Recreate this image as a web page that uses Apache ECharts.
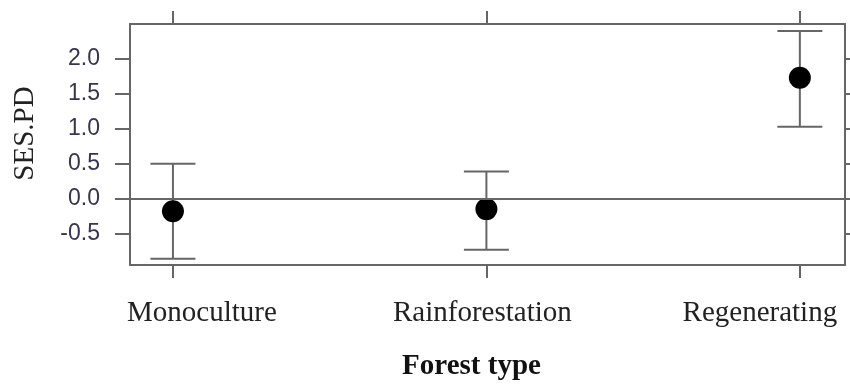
<!DOCTYPE html>
<html>
<head>
<meta charset="utf-8">
<script src="https://cdn.jsdelivr.net/npm/echarts@6/dist/echarts.min.js"></script>
<style>html,body{margin:0;padding:0;background:#fff;}#c{width:850px;height:385px;}</style>
</head>
<body>
<div id="c"></div>
<script>
const categories = ['Monoculture', 'Rainforestation', 'Regenerating'];
const positions = [1, 2, 3];
const meanValues = [-0.18, -0.15, 1.73];
const lowerValues = [-0.86, -0.73, 1.03];
const upperValues = [0.50, 0.39, 2.40];
const yTicks = [-0.5, 0.0, 0.5, 1.0, 1.5, 2.0];

const chart = echarts.init(document.getElementById('c'), null, {renderer: 'canvas'});
const axisCol = '#666';
const lineStyle = {color: axisCol, width: 2};
const serif = '"Liberation Serif", "Times New Roman", serif';
const labelStyles = ['a', 'b', 'c'];

const errData = positions.map((p, i) => [p, lowerValues[i], upperValues[i]]);
const ptData = positions.map((p, i) => [p, meanValues[i]]);

const option = {
  animation: false,
  backgroundColor: '#fff',
  grid: {left: 130, right: 5, top: 24, bottom: 120, containLabel: false, outerBoundsMode: 'none'},
  xAxis: [{
    type: 'value', min: 0.863, max: 3.144, position: 'bottom',
    splitLine: {show: false},
    axisLine: {show: true, onZero: false, lineStyle: lineStyle},
    axisTick: {show: true, inside: false, length: 13, lineStyle: lineStyle, customValues: positions},
    axisLabel: {
      show: true, margin: 34, customValues: positions,
      formatter: v => {
        const i = positions.indexOf(Math.round(v));
        return i < 0 ? '' : '{' + labelStyles[i] + '|' + categories[i] + '}';
      },
      fontFamily: serif, fontSize: 29, color: '#222',
      rich: {
        a: {fontFamily: serif, fontSize: 29, color: '#222', padding: [0, 0, 0, 58]},
        b: {fontFamily: serif, fontSize: 29, color: '#222', padding: [0, 8, 0, 0]},
        c: {fontFamily: serif, fontSize: 29, color: '#222', padding: [0, 80, 0, 0]}
      }
    },
    name: 'Forest type', nameLocation: 'middle', nameGap: 87,
    nameTextStyle: {fontFamily: serif, fontSize: 29, fontWeight: 'bold', color: '#111', padding: [0, 32, 0, 0]}
  }, {
    type: 'value', min: 0.863, max: 3.144, position: 'top',
    splitLine: {show: false},
    axisLine: {show: true, onZero: false, lineStyle: lineStyle},
    axisTick: {show: true, inside: false, length: 13, lineStyle: lineStyle, customValues: positions},
    axisLabel: {show: false}
  }],
  yAxis: [{
    type: 'value', min: -0.95, max: 2.5, position: 'left',
    splitLine: {show: false},
    axisLine: {show: true, onZero: false, lineStyle: lineStyle},
    axisTick: {show: true, inside: false, length: 15, lineStyle: lineStyle, customValues: yTicks},
    axisLabel: {
      show: true, margin: 30, customValues: yTicks,
      formatter: v => v.toFixed(1),
      fontFamily: '"Liberation Sans", Arial, sans-serif', fontSize: 23, color: '#353552'
    },
    name: 'SES.PD', nameLocation: 'middle', nameGap: 90, nameRotate: 90,
    nameTextStyle: {fontFamily: serif, fontSize: 29, color: '#222', padding: [0, 0, 0, 22]}
  }, {
    type: 'value', min: -0.95, max: 2.5, position: 'right',
    splitLine: {show: false},
    axisLine: {show: true, onZero: false, lineStyle: lineStyle},
    axisTick: {show: true, inside: false, length: 13, lineStyle: lineStyle, customValues: yTicks},
    axisLabel: {show: false}
  }],
  series: [{
    type: 'custom',
    xAxisIndex: 0, yAxisIndex: 0,
    data: errData,
    renderItem: function (params, api) {
      const x = api.value(0);
      const lo = api.coord([x, api.value(1)]);
      const hi = api.coord([x, api.value(2)]);
      const hw = 22.5;
      const st = {stroke: axisCol, lineWidth: 2};
      return {
        type: 'group',
        children: [
          {type: 'line', shape: {x1: lo[0], y1: lo[1], x2: hi[0], y2: hi[1]}, style: st},
          {type: 'line', shape: {x1: lo[0] - hw, y1: lo[1], x2: lo[0] + hw, y2: lo[1]}, style: st},
          {type: 'line', shape: {x1: hi[0] - hw, y1: hi[1], x2: hi[0] + hw, y2: hi[1]}, style: st}
        ]
      };
    },
    markLine: {
      silent: true, symbol: ['none', 'none'],
      label: {show: false},
      lineStyle: {color: axisCol, width: 2, type: 'solid'},
      data: [{yAxis: 0}]
    },
    z: 2
  }, {
    type: 'scatter',
    xAxisIndex: 0, yAxisIndex: 0,
    data: ptData,
    symbol: 'circle', symbolSize: 22,
    itemStyle: {color: '#000', opacity: 1},
    z: 3
  }]
};
chart.setOption(option);
</script>
</body>
</html>
